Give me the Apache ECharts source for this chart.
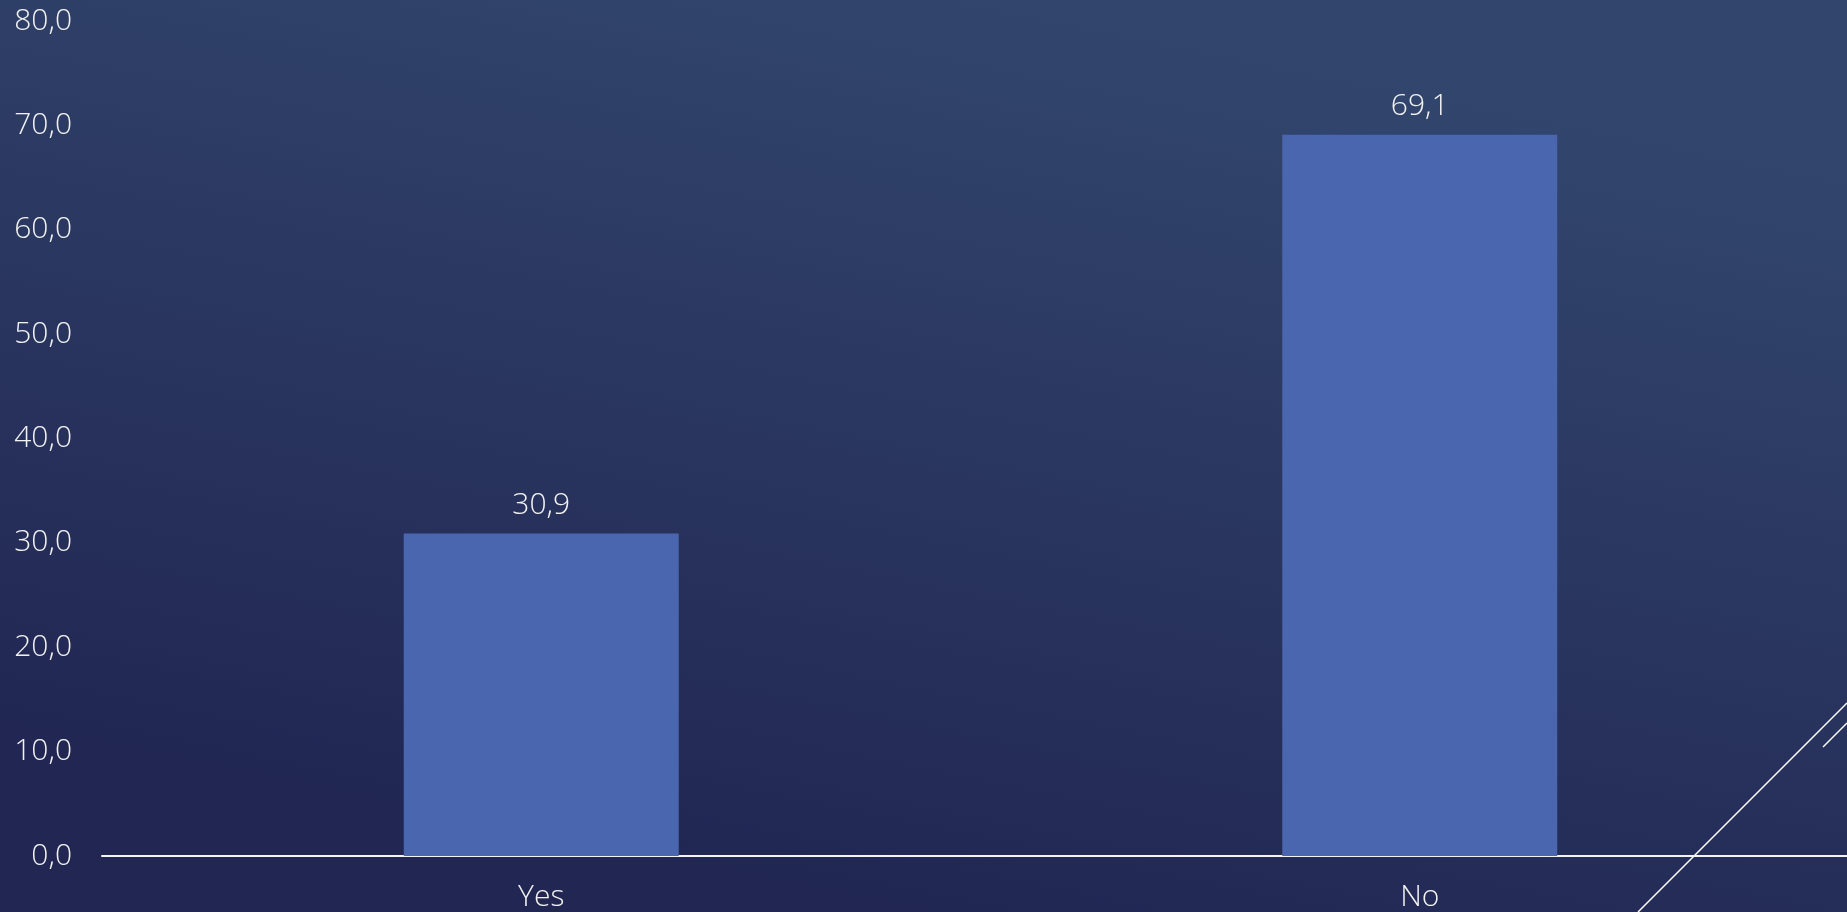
<!DOCTYPE html>
<html>
<head>
<meta charset="utf-8">
<script src="https://cdn.jsdelivr.net/npm/echarts@6/dist/echarts.min.js"></script>
<style>
html,body{margin:0;padding:0;width:1847px;height:912px;overflow:hidden;background:#2a355f;}
#chart{width:1859px;height:912px;}
</style>
</head>
<body>
<div id="chart"></div>
<script>
const categories = ['Yes', 'No'];
const values = [30.9, 69.1];
const yMin = 0, yMax = 80, yInterval = 10;

const fmt = v => Number(v).toFixed(1).replace('.', ',');
const FONT = '"Open Sans", "Noto Sans", sans-serif';
const TXT = '#f2f2f2';

const chart = echarts.init(document.getElementById('chart'));
chart.setOption({
  animation: false,
  backgroundColor: {
    type: 'linear', x: 0.55, y: 0, x2: 0.45, y2: 1,
    colorStops: [
      {offset: 0, color: '#32466d'},
      {offset: 1, color: '#212653'}
    ]
  },
  grid: {left: 102, right: 0, top: 21, bottom: 55, containLabel: false},
  xAxis: {
    type: 'category',
    data: categories,
    axisTick: {show: false},
    axisLine: {lineStyle: {color: '#f4f4f4', width: 2}},
    axisLabel: {color: TXT, fontSize: 30, fontFamily: FONT, fontWeight: 300, margin: 26}
  },
  yAxis: {
    type: 'value',
    min: yMin, max: yMax, interval: yInterval,
    splitLine: {show: false},
    axisLine: {show: false},
    axisTick: {show: false},
    axisLabel: {color: TXT, fontSize: 30, fontFamily: FONT, fontWeight: 300, margin: 30, formatter: fmt}
  },
  series: [{
    type: 'bar',
    data: values,
    barWidth: 275,
    itemStyle: {color: '#4a66ae'},
    label: {
      show: true, position: 'top', distance: 13,
      color: TXT, fontSize: 30, fontFamily: FONT, fontWeight: 300,
      formatter: p => fmt(p.value)
    }
  }],
  graphic: [
    {type: 'line', shape: {x1: 1638, y1: 912, x2: 1847, y2: 703}, style: {stroke: '#ffffff', lineWidth: 1.5}, silent: true},
    {type: 'line', shape: {x1: 1823, y1: 747, x2: 1847, y2: 723}, style: {stroke: '#ffffff', lineWidth: 1.5}, silent: true}
  ]
});
</script>
</body>
</html>
